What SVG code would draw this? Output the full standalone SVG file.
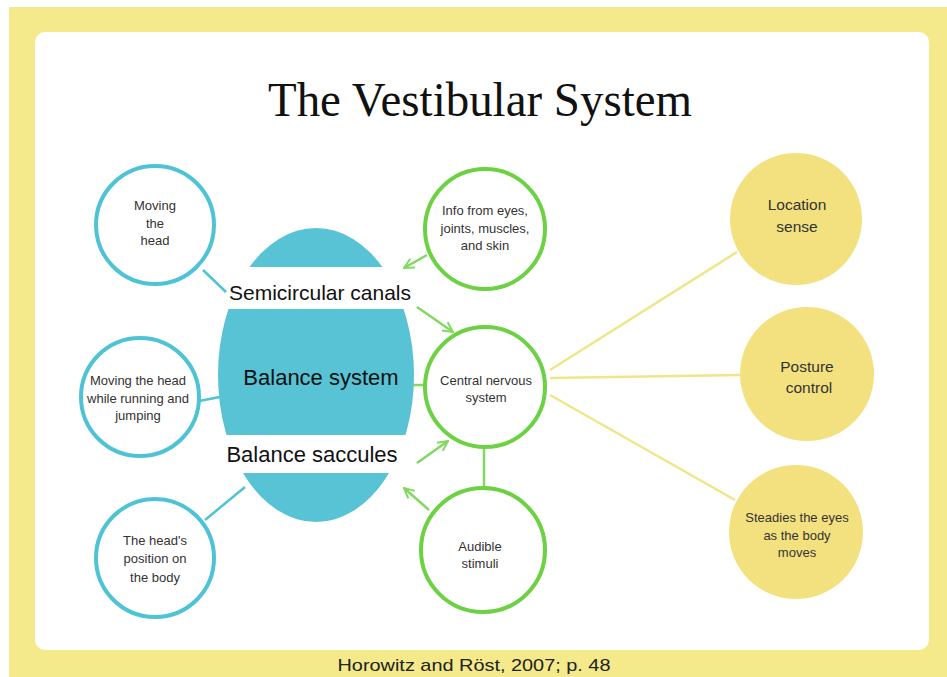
<svg xmlns="http://www.w3.org/2000/svg" width="947" height="677" viewBox="0 0 947 677">
<defs>
<style>
.blue{fill:#fff;stroke:#4fc3d6;stroke-width:4}
.green{fill:#fff;stroke:#6cd143;stroke-width:4}
.yel{fill:#f3e17f}
.t{font-family:"Liberation Sans",Arial,sans-serif;fill:#333;text-anchor:middle}
.s{font-size:13px}
.m{font-size:15.5px}
.big{font-family:"Liberation Sans",Arial,sans-serif;fill:#111;text-anchor:middle}
.bl{stroke:#4fc3d6;stroke-width:2.5;fill:none}
.gl{stroke:#83d862;stroke-width:2.5;fill:none}
.yl{stroke:#efe688;stroke-width:2.5;fill:none}
</style>
<marker id="ah" viewBox="0 0 10 10" refX="9" refY="5" markerWidth="5" markerHeight="5" orient="auto" markerUnits="strokeWidth">
<path d="M1,1 L9,5 L1,9" fill="none" stroke="#83d862" stroke-width="1.6"/>
</marker>
<clipPath id="bands">
<rect x="200" y="220" width="240" height="47"/>
<rect x="200" y="309" width="240" height="126"/>
<rect x="200" y="473" width="240" height="60"/>
</clipPath>
</defs>
<rect x="0" y="0" width="947" height="677" fill="#fff"/>
<rect x="9" y="7" width="938" height="670" fill="#f4e98b"/>
<rect x="35" y="32" width="894" height="618" rx="10" fill="#fff"/>
<text x="480" y="116" font-family="Liberation Serif,Times New Roman,serif" font-size="48" fill="#111" text-anchor="middle" textLength="424" lengthAdjust="spacingAndGlyphs">The Vestibular System</text>

<g id="connectors">
<line class="bl" x1="203" y1="270" x2="226" y2="292"/>
<line class="bl" x1="199" y1="401" x2="220" y2="397"/>
<line class="bl" x1="205" y1="520" x2="245" y2="487"/>
<line class="gl" x1="427" y1="255" x2="404" y2="268" marker-end="url(#ah)"/>
<line class="gl" x1="417" y1="307" x2="453" y2="332" marker-end="url(#ah)"/>
<line class="gl" x1="417" y1="463" x2="448" y2="441" marker-end="url(#ah)"/>
<line class="gl" x1="429" y1="510" x2="404" y2="488" marker-end="url(#ah)"/>
<line class="gl" x1="413" y1="385" x2="424" y2="385"/>
<line class="gl" x1="484" y1="448" x2="484" y2="489"/>
<line class="yl" x1="550" y1="370" x2="737" y2="252"/>
<line class="yl" x1="550" y1="378" x2="740" y2="375"/>
<line class="yl" x1="550" y1="395" x2="735" y2="500"/>
</g>

<g id="balance">
<ellipse cx="316" cy="375" rx="98" ry="147" fill="#58c3d5" clip-path="url(#bands)"/>
<text class="big" x="320" y="300" font-size="21">Semicircular canals</text>
<text class="big" x="321" y="385" font-size="22">Balance system</text>
<text class="big" x="312" y="462" font-size="22">Balance saccules</text>
</g>

<g id="moving-head">
<circle class="blue" cx="155" cy="225" r="59"/>
<text class="t s" x="155" y="210">Moving</text>
<text class="t s" x="155" y="228">the</text>
<text class="t s" x="155" y="245">head</text>
</g>
<g id="running">
<circle class="blue" cx="140" cy="397" r="59"/>
<text class="t s" x="138" y="385">Moving the head</text>
<text class="t s" x="138" y="403">while running and</text>
<text class="t s" x="138" y="420">jumping</text>
</g>
<g id="position">
<circle class="blue" cx="155" cy="558" r="59"/>
<text class="t s" x="155" y="545">The head's</text>
<text class="t s" x="155" y="563">position on</text>
<text class="t s" x="155" y="582">the body</text>
</g>

<g id="info">
<circle class="green" cx="485" cy="229" r="60"/>
<text class="t s" x="485" y="215">Info from eyes,</text>
<text class="t s" x="485" y="233">joints, muscles,</text>
<text class="t s" x="485" y="250">and skin</text>
</g>
<g id="cns">
<circle class="green" cx="485" cy="387" r="60"/>
<text class="t s" x="486" y="385">Central nervous</text>
<text class="t s" x="486" y="402">system</text>
</g>
<g id="audible">
<circle class="green" cx="483" cy="550" r="62"/>
<text class="t s" x="480" y="551">Audible</text>
<text class="t s" x="480" y="568">stimuli</text>
</g>

<g id="location">
<circle class="yel" cx="796" cy="219" r="66"/>
<text class="t m" x="797" y="210">Location</text>
<text class="t m" x="797" y="232">sense</text>
</g>
<g id="posture">
<circle class="yel" cx="807" cy="374" r="67"/>
<text class="t m" x="807" y="372">Posture</text>
<text class="t m" x="809" y="393">control</text>
</g>
<g id="steadies">
<circle class="yel" cx="796" cy="532" r="67"/>
<text class="t s" x="797" y="522">Steadies the eyes</text>
<text class="t s" x="797" y="540">as the body</text>
<text class="t s" x="797" y="557">moves</text>
</g>

<text x="474" y="671" font-family="Liberation Sans,Arial,sans-serif" font-size="17" fill="#222" text-anchor="middle" textLength="273" lengthAdjust="spacingAndGlyphs">Horowitz and Röst, 2007; p. 48</text>
</svg>
